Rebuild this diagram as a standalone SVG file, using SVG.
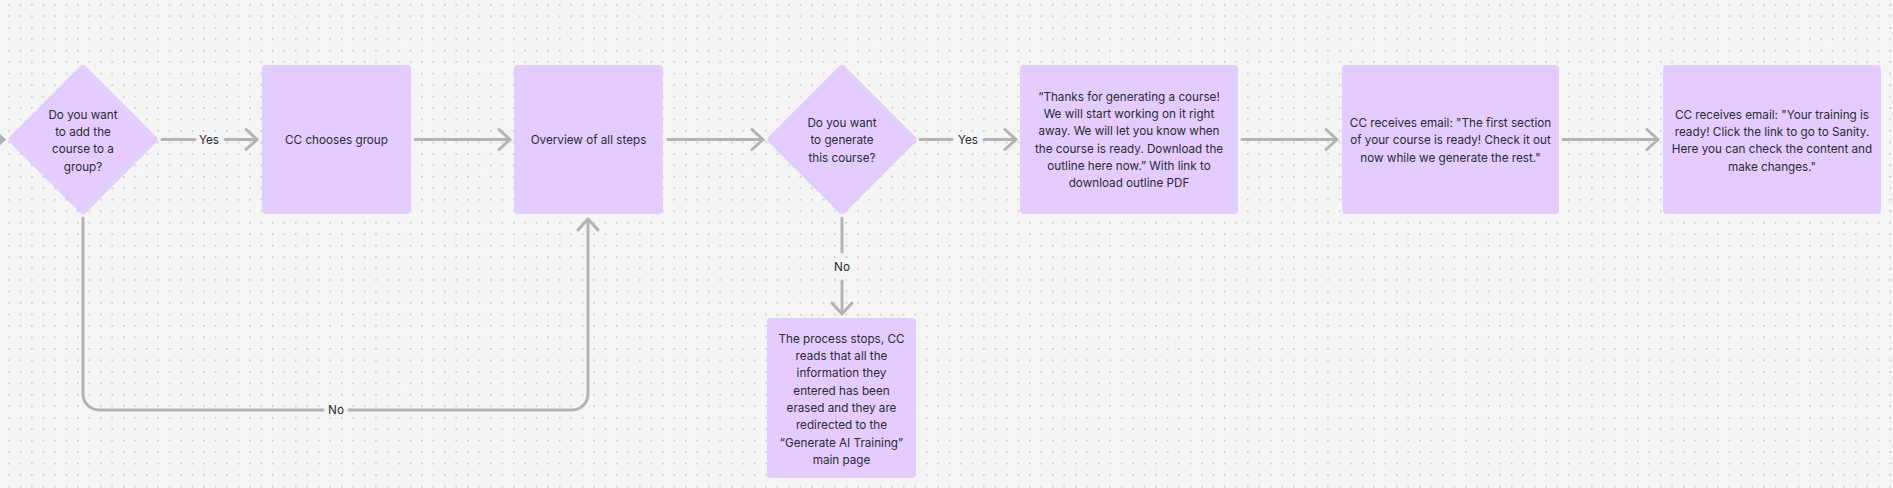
<svg xmlns="http://www.w3.org/2000/svg" width="1893" height="488" viewBox="0 0 1893 488">
<style>
.node{fill:#E4CCFF}
.t{font-family:Inter,"Noto Sans","Liberation Sans",sans-serif;font-size:11.7px;fill:#2b2b33;text-anchor:middle}
.c{fill:none;stroke:#b3b3b3;stroke-width:3;stroke-linecap:round}
</style>
<defs>
<pattern id="dots" patternUnits="userSpaceOnUse" x="8.2" y="3.9" width="11.47" height="11.47">
<rect x="0" y="0" width="1.6" height="1.6" fill="#c6c6c6"/>
</pattern>
<marker id="arr" markerUnits="userSpaceOnUse" markerWidth="30" markerHeight="30" viewBox="-15 -15 30 30" refX="0" refY="0" orient="auto" overflow="visible">
<path d="M-11,-10 L0,0 L-11,10" fill="none" stroke="#b3b3b3" stroke-width="3" stroke-linecap="round" stroke-linejoin="round"/>
</marker>
</defs>
<rect width="1893" height="488" fill="#f5f5f5"/>
<rect width="1893" height="488" fill="url(#dots)"/>

<g id="connectors">
<path class="c" d="M-20,139.5 H4" marker-end="url(#arr)"/>
<path class="c" d="M162,139.5 H195"/>
<path class="c" d="M225,139.5 H257" marker-end="url(#arr)"/>
<path class="c" d="M415,139.5 H510" marker-end="url(#arr)"/>
<path class="c" d="M668,139.5 H763" marker-end="url(#arr)"/>
<path class="c" d="M920,139.5 H952"/>
<path class="c" d="M984,139.5 H1016" marker-end="url(#arr)"/>
<path class="c" d="M1242,139.5 H1337" marker-end="url(#arr)"/>
<path class="c" d="M1563,139.5 H1658" marker-end="url(#arr)"/>
<path class="c" d="M842,218 V252"/>
<path class="c" d="M842,281 V314" marker-end="url(#arr)"/>
<path class="c" d="M83,218 V394 A16,16 0 0 0 99,410 H323"/>
<path class="c" d="M349,410 H572 A16,16 0 0 0 588,394 V219" marker-end="url(#arr)"/>
<text class="t" x="209" y="143.8">Yes</text>
<text class="t" x="968" y="143.8">Yes</text>
<text class="t" x="842" y="271.3">No</text>
<text class="t" x="336" y="414.3">No</text>
</g>

<g id="q1">
<rect class="node" x="-53.8" y="-53.8" width="107.6" height="107.6" rx="4" transform="translate(83,139.5) rotate(45)"/>
<text class="t" x="83" y="118.6">Do you want</text>
<text class="t" x="83" y="136">to add the</text>
<text class="t" x="83" y="153.3">course to a</text>
<text class="t" x="83" y="170.8">group?</text>
</g>

<g id="chooseGroup">
<rect class="node" x="262" y="65" width="149" height="149" rx="4"/>
<text class="t" x="336.5" y="143.8">CC chooses group</text>
</g>

<g id="overview">
<rect class="node" x="514" y="65" width="149" height="149" rx="4"/>
<text class="t" x="588.5" y="143.8">Overview of all steps</text>
</g>

<g id="q2">
<rect class="node" x="-53.8" y="-53.8" width="107.6" height="107.6" rx="4" transform="translate(842,139.5) rotate(45)"/>
<text class="t" x="842" y="127">Do you want</text>
<text class="t" x="842" y="144.3">to generate</text>
<text class="t" x="842" y="161.6">this course?</text>
</g>

<g id="thanks">
<rect class="node" x="1020" y="65" width="218" height="149" rx="4"/>
<text class="t" x="1129" y="101">“Thanks for generating a course!</text>
<text class="t" x="1129" y="118.2">We will start working on it right</text>
<text class="t" x="1129" y="135.4">away. We will let you know when</text>
<text class="t" x="1129" y="152.6">the course is ready. Download the</text>
<text class="t" x="1129" y="170.1">outline here now.” With link to</text>
<text class="t" x="1129" y="187.3">download outline PDF</text>
</g>

<g id="email1">
<rect class="node" x="1342" y="65" width="217" height="149" rx="4"/>
<text class="t" x="1450.5" y="127">CC receives email: "The first section</text>
<text class="t" x="1450.5" y="144.3">of your course is ready! Check it out</text>
<text class="t" x="1450.5" y="161.6">now while we generate the rest."</text>
</g>

<g id="email2">
<rect class="node" x="1663" y="65" width="218" height="149" rx="4"/>
<text class="t" x="1772" y="118.6">CC receives email: "Your training is</text>
<text class="t" x="1772" y="136">ready! Click the link to go to Sanity.</text>
<text class="t" x="1772" y="153.3">Here you can check the content and</text>
<text class="t" x="1772" y="170.6">make changes."</text>
</g>

<g id="stop">
<rect class="node" x="767" y="318" width="149" height="160" rx="4"/>
<text class="t" x="841.5" y="342.6">The process stops, CC</text>
<text class="t" x="841.5" y="360">reads that all the</text>
<text class="t" x="841.5" y="377.3">information they</text>
<text class="t" x="841.5" y="394.6">entered has been</text>
<text class="t" x="841.5" y="412">erased and they are</text>
<text class="t" x="841.5" y="429.3">redirected to the</text>
<text class="t" x="841.5" y="446.6">“Generate AI Training”</text>
<text class="t" x="841.5" y="464">main page</text>
</g>
</svg>
